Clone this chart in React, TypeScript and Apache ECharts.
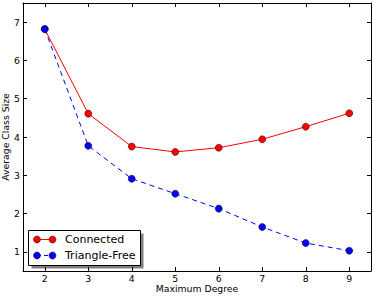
import React, { useEffect, useRef } from "react";
import * as echarts from "echarts";

const degrees = [2, 3, 4, 5, 6, 7, 8, 9];
const connected = [6.82, 4.61, 3.75, 3.61, 3.72, 3.94, 4.27, 4.62];
const triangleFree = [6.82, 3.77, 2.91, 2.52, 2.13, 1.65, 1.23, 1.03];
const xTicks = [2, 3, 4, 5, 6, 7, 8, 9];
const yTicks = [1, 2, 3, 4, 5, 6, 7];

const FONT = "DejaVu Sans";

export default function App() {
  const ref = useRef<HTMLDivElement>(null);
  useEffect(() => {
    document.body.style.margin = "0";
    const chart = echarts.init(ref.current!, null, { renderer: "svg" });
    const axisLine = { show: true, lineStyle: { color: "#000", width: 1 } };
    const tick = (vals: number[]) => ({
      show: true,
      inside: true,
      length: 4,
      lineStyle: { color: "#000" },
      customValues: vals,
    });
    const legendX = 28;
    const legendY = 230;
    chart.setOption({
      animation: false,
      backgroundColor: "#fff",
      grid: { left: 23, right: 3, top: 3, bottom: 25, containLabel: false, outerBoundsMode: "none" },
      xAxis: [
        {
          type: "value",
          min: 1.5,
          max: 9.5,
          position: "bottom",
          axisLine,
          splitLine: { show: false },
          axisLabel: {
            show: true,
            color: "#000",
            fontFamily: FONT,
            fontSize: 9.3,
            margin: 3,
            customValues: xTicks,
          },
          axisTick: tick(xTicks),
          name: "Maximum Degree",
          nameLocation: "middle",
          nameGap: 13,
          nameMoveOverlap: false,
          nameTextStyle: { color: "#000", fontFamily: FONT, fontSize: 9.3, verticalAlign: "top" },
        },
        {
          type: "value",
          min: 1.5,
          max: 9.5,
          position: "top",
          axisLine,
          splitLine: { show: false },
          axisLabel: { show: false, customValues: xTicks },
          axisTick: tick(xTicks),
        },
      ],
      yAxis: [
        {
          type: "value",
          min: 0.5,
          max: 7.5,
          position: "left",
          axisLine,
          splitLine: { show: false },
          axisLabel: {
            show: true,
            color: "#000",
            fontFamily: FONT,
            fontSize: 9.3,
            margin: 3,
            customValues: yTicks,
          },
          axisTick: tick(yTicks),
          name: "Average Class Size",
          nameLocation: "middle",
          nameGap: 13,
          nameMoveOverlap: false,
          nameTextStyle: { color: "#000", fontFamily: FONT, fontSize: 9.3 },
        },
        {
          type: "value",
          min: 0.5,
          max: 7.5,
          position: "right",
          axisLine,
          splitLine: { show: false },
          axisLabel: { show: false, customValues: yTicks },
          axisTick: tick(yTicks),
        },
      ],
      series: [
        {
          name: "Connected",
          type: "line",
          data: degrees.map((d, i) => [d, connected[i]]),
          symbol: "circle",
          symbolSize: 7,
          lineStyle: { color: "#ff0000", width: 1 },
          itemStyle: { color: "#ff0000", borderColor: "#000", borderWidth: 0.5 },
          z: 3,
        },
        {
          name: "Triangle-Free",
          type: "line",
          data: degrees.map((d, i) => [d, triangleFree[i]]),
          symbol: "circle",
          symbolSize: 7,
          lineStyle: { color: "#0000ff", width: 1, type: [5, 4] },
          itemStyle: { color: "#0000ff", borderColor: "#000", borderWidth: 0.5 },
          z: 3,
        },
      ],
      graphic: [
        {
          type: "group",
          left: legendX,
          top: legendY,
          z: 100,
          children: [
            { type: "rect", shape: { x: 3, y: 3, width: 112, height: 35 }, style: { fill: "#808080" } },
            { type: "rect", shape: { x: 0, y: 0, width: 112, height: 35 }, style: { fill: "#fff", stroke: "#000", lineWidth: 1 } },
            { type: "line", shape: { x1: 8.5, y1: 9, x2: 24, y2: 9 }, style: { stroke: "#ff0000", lineWidth: 1 } },
            { type: "circle", shape: { cx: 8.5, cy: 9, r: 3.5 }, style: { fill: "#ff0000", stroke: "#000", lineWidth: 0.5 } },
            { type: "circle", shape: { cx: 24, cy: 9, r: 3.5 }, style: { fill: "#ff0000", stroke: "#000", lineWidth: 0.5 } },
            { type: "text", x: 36.5, y: 9, style: { text: "Connected", fill: "#000", font: `11px "${FONT}"`, verticalAlign: "middle" } },
            { type: "line", shape: { x1: 8.5, y1: 25, x2: 24, y2: 25 }, style: { stroke: "#0000ff", lineWidth: 1, lineDash: [4, 3] } },
            { type: "circle", shape: { cx: 8.5, cy: 25, r: 3.5 }, style: { fill: "#0000ff", stroke: "#000", lineWidth: 0.5 } },
            { type: "circle", shape: { cx: 24, cy: 25, r: 3.5 }, style: { fill: "#0000ff", stroke: "#000", lineWidth: 0.5 } },
            { type: "text", x: 36.5, y: 25, style: { text: "Triangle-Free", fill: "#000", font: `11px "${FONT}"`, verticalAlign: "middle" } },
          ],
        },
      ],
    });
    return () => chart.dispose();
  }, []);
  return <div ref={ref} style={{ width: 374, height: 296 }} />;
}
